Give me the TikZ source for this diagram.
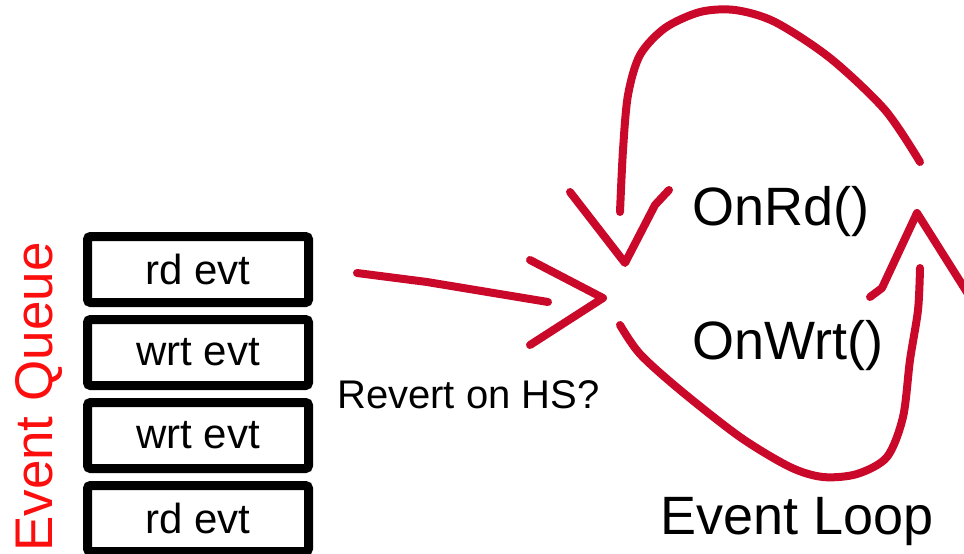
\documentclass[tikz,border=0pt]{standalone}
\usepackage{fontspec}
\setmainfont{Liberation Sans}
\usetikzlibrary{positioning}
\definecolor{inkred}{RGB}{202,8,42}
\definecolor{queuered}{RGB}{252,14,14}

\begin{document}
\begin{tikzpicture}[%
    x=1pt,
    y=-1pt,
    evt/.style={%
      rectangle,
      draw,
      line width=9pt,
      rounded corners=3pt,
      minimum width=221pt,
      minimum height=66pt,
      inner sep=0pt,
      outer sep=0pt,
      font=\fontsize{42}{48}\selectfont
    },
    fname/.style={%
      inner sep=0pt,
      anchor=base west,
      font=\fontsize{54}{60}\selectfont
    },
    pen/.style={%
      draw=inkred,
      line width=8pt,
      line cap=round,
      line join=round
    }
  ]
    \useasboundingbox (0,0) rectangle (964,554);

    % queue
    \node[evt] (q1) at (198,269.5)      {rd evt};
    \node[evt] (q2) [below=17pt of q1]  {wrt evt};
    \node[evt] (q3) [below=17pt of q2]  {wrt evt};
    \node[evt] (q4) [below=17pt of q3]  {rd evt};
    \node[fname, text=queuered, rotate=90, font=\fontsize{53}{60}\selectfont] (queue) at (52,552) {Event Queue};

    % loop labels
    \node[fname] (onrd)  at (692,225) {OnRd()};
    \node[fname] (onwrt) at (692,359) {OnWrt()};
    \node[fname] (loop)  at (660,534) {Event Loop};
    \node[fname, font=\fontsize{40}{48}\selectfont] (hs) at (337,408) {Revert on HS?};

    \coordinate (tail)  at (357,273);
    \coordinate (tip)   at (603,298);
    \coordinate (rdout) at (920,162);
    \coordinate (rdin)  at (620,212);
    \coordinate (vtip)  at (625,263);
    \coordinate (wrout) at (620,325);
    \coordinate (wrin)  at (920,268);
    \coordinate (atip)  at (917,213);

    % queue -> loop
    \draw[pen] (tail) -- (427,282) -- (548,302);
    \draw[pen] (530,260) -- (tip) -- (530,345);

    % read handler
    \draw[pen] plot[smooth] coordinates {(rdin) (623,150) (628,95) (640,55) (665,28) (700,12) (735,10) (775,22) (830,58) (885,110) (rdout)};
    \draw[pen] (570,192) -- (vtip) -- (655,205) -- (669,190);

    % write handler
    \draw[pen] plot[smooth] coordinates {(wrout) (640,354) (680,390) (740,437) (790,467) (823,477) (857,474) (887,457) (903,417) (910,360) (918,310) (wrin)};
    \draw[pen] (870,297) -- (882,288) -- (atip) -- (975,305);
\end{tikzpicture}
\end{document}
